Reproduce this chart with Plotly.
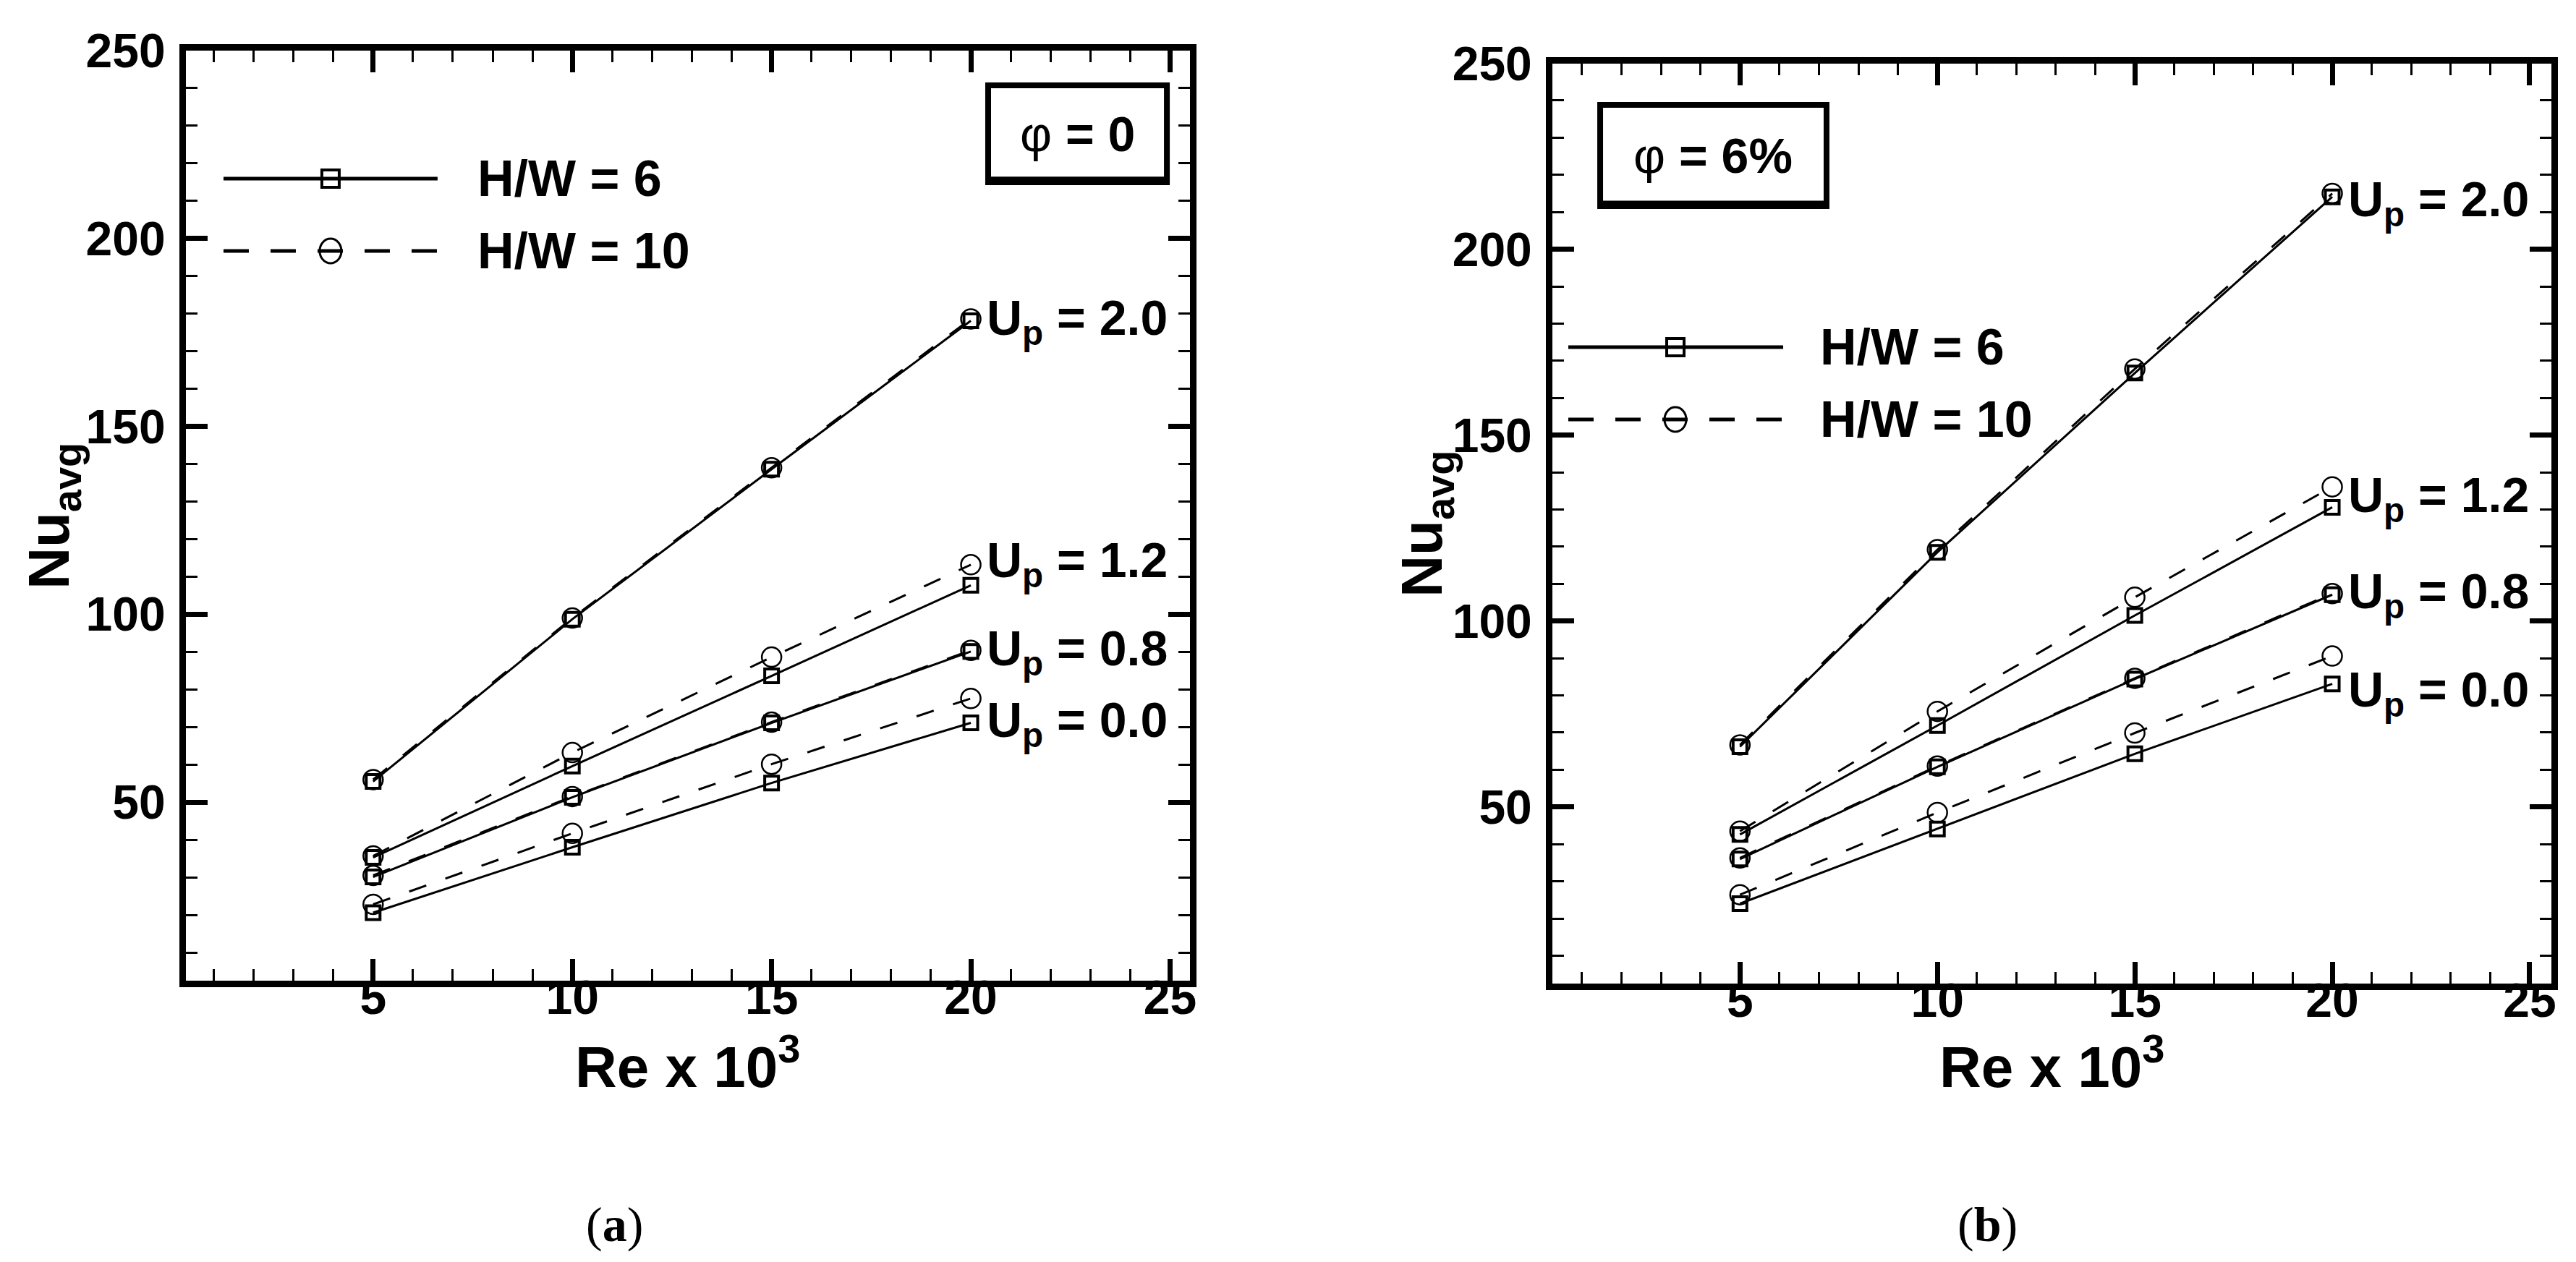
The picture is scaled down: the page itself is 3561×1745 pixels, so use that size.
import plotly.graph_objects as go

# Re x 10^3 values
re_x = [5, 10, 15, 20]
up_names = ["2.0", "1.2", "0.8", "0.0"]

# (a) phi = 0, H/W = 6
a_hw6_up20 = [55.5, 98.7, 138.6, 178.1]
a_hw6_up12 = [35.3, 59.6, 83.6, 107.7]
a_hw6_up08 = [30.1, 51.3, 71.1, 90.1]
a_hw6_up00 = [20.6, 38.0, 55.1, 71.1]
# (a) phi = 0, H/W = 10
a_hw10_up20 = [56.0, 99.0, 139.0, 178.6]
a_hw10_up12 = [35.7, 63.2, 88.6, 113.2]
a_hw10_up08 = [30.5, 51.5, 71.3, 90.4]
a_hw10_up00 = [22.8, 41.7, 60.1, 77.6]

# (b) phi = 6%, H/W = 6
b_hw6_up20 = [66.2, 118.5, 166.7, 214.1]
b_hw6_up12 = [42.6, 71.9, 101.5, 130.6]
b_hw6_up08 = [36.0, 60.8, 84.4, 107.1]
b_hw6_up00 = [24.0, 44.1, 64.3, 83.1]
# (b) phi = 6%, H/W = 10
b_hw10_up20 = [66.7, 119.2, 167.8, 215.0]
b_hw10_up12 = [43.5, 75.7, 106.4, 136.1]
b_hw10_up08 = [36.3, 61.0, 84.6, 107.4]
b_hw10_up00 = [26.4, 48.5, 69.9, 90.6]

x_ticks = [5, 10, 15, 20, 25]
y_ticks = [50, 100, 150, 200, 250]

SANS = "Liberation Sans, Arial, sans-serif"
SERIF = "Liberation Serif, Times New Roman, serif"

panels = [
    dict(xa="x", ya="y", hw6=[a_hw6_up20, a_hw6_up12, a_hw6_up08, a_hw6_up00],
         hw10=[a_hw10_up20, a_hw10_up12, a_hw10_up08, a_hw10_up00],
         xdom=[0.0699, 0.4597], ydom=[0.2275, 0.9645], xrange=[0.3, 25.5],
         phi="φ<b> = 0</b>", box=[0.799, 0.977, 0.8585, 0.9627],
         leg_x=[0.0375, 0.1441, 0.2507, 0.2889], leg_y=[0.8624, 0.7846],
         nu_x=0.0185, label="(<b>a</b>)", label_x=0.2362,
         up_shift=[0, 30, 0, 0]),
    dict(xa="x2", ya="y2", hw6=[b_hw6_up20, b_hw6_up12, b_hw6_up08, b_hw6_up00],
         hw10=[b_hw10_up20, b_hw10_up12, b_hw10_up08, b_hw10_up00],
         xdom=[0.6004, 0.9882], ydom=[0.2252, 0.9544], xrange=[0.25, 25.55],
         phi="φ<b> = 6%</b>", box=[0.0478, 0.2744, 0.8448, 0.9548],
         leg_x=[0.0159, 0.1231, 0.231, 0.2668], leg_y=[0.6916, 0.613],
         nu_x=0.5515, label="(<b>b</b>)", label_x=0.7692,
         up_shift=[-8, 12, 0, -12]),
]

fig = go.Figure()
shapes = []
annotations = []

for p in panels:
    xa, ya = p["xa"], p["ya"]
    for i, name in enumerate(up_names):
        fig.add_trace(go.Scatter(
            x=re_x, y=p["hw10"][i], xaxis=xa, yaxis=ya, mode="lines+markers",
            line=dict(color="black", width=3, dash="25px,28px"),
            marker=dict(symbol="circle-open", size=27, color="black",
                        line=dict(width=2.5, color="black")),
            showlegend=False, name="H/W = 10, Up = " + name))
        fig.add_trace(go.Scatter(
            x=re_x, y=p["hw6"][i], xaxis=xa, yaxis=ya, mode="lines+markers",
            line=dict(color="black", width=3),
            marker=dict(symbol="square-open", size=19, color="black",
                        line=dict(width=4, color="black")),
            showlegend=False, name="H/W = 6, Up = " + name))
        annotations.append(dict(
            x=re_x[-1], y=p["hw6"][i][-1], xref=xa, yref=ya,
            text="<b>U<sub>p</sub> = " + name + "</b>", showarrow=False,
            xanchor="left", yanchor="middle", xshift=20, yshift=p["up_shift"][i],
            font=dict(family=SANS, size=68, color="black")))

    xd, yd = xa + " domain", ya + " domain"
    # legend keys
    lx = p["leg_x"]
    for j, (dash, sym, txt) in enumerate([("solid", "rect", "H/W = 6"),
                                           ("35px,30px", "circle", "H/W = 10")]):
        yy = p["leg_y"][j]
        shapes.append(dict(type="line", xref=xd, yref=yd, x0=lx[0], x1=lx[2], y0=yy, y1=yy,
                           line=dict(color="black", width=5, dash=dash)))
        w, h = (12, 12) if sym == "rect" else (15, 17)
        shapes.append(dict(type=sym, xref=xd, yref=yd, xsizemode="pixel", ysizemode="pixel",
                           xanchor=lx[1], yanchor=yy, x0=-w, x1=w, y0=-h, y1=h,
                           line=dict(color="black", width=4 if sym == "rect" else 3)))
        annotations.append(dict(x=lx[3], y=yy, xref=xd, yref=yd, text="<b>" + txt + "</b>",
                                showarrow=False, xanchor="left", yanchor="middle",
                                font=dict(family=SANS, size=70, color="black")))

    # phi box
    bx = p["box"]
    shapes.append(dict(type="rect", xref=xd, yref=yd, x0=bx[0], x1=bx[1], y0=bx[2], y1=bx[3],
                       line=dict(color="black", width=8), fillcolor="white", layer="above"))
    shapes.append(dict(type="line", xref=xd, yref=yd, x0=bx[0], x1=bx[1], y0=bx[2] + 0.002,
                       y1=bx[2] + 0.002, line=dict(color="black", width=10)))
    annotations.append(dict(x=(bx[0] + bx[1]) / 2, y=(bx[2] + bx[3]) / 2, xref=xd, yref=yd,
                            text=p["phi"], showarrow=False, xanchor="center", yanchor="middle",
                            font=dict(family=SANS, size=68, color="black")))

    # axis titles
    annotations.append(dict(x=0.5, y=0.1625, xref=xd, yref="paper",
                            text="<b>Re x 10<sup>3</sup></b>", showarrow=False,
                            xanchor="center", yanchor="middle",
                            font=dict(family=SANS, size=80, color="black")))
    annotations.append(dict(x=p["nu_x"], y=0.5, xref="paper", yref=yd,
                            text="<b>Nu<sub>avg</sub></b>", showarrow=False, textangle=-90,
                            xanchor="center", yanchor="middle",
                            font=dict(family=SANS, size=80, color="black")))
    annotations.append(dict(x=p["label_x"], y=0.0344, xref="paper", yref="paper",
                            text=p["label"], showarrow=False, xanchor="center", yanchor="middle",
                            font=dict(family=SERIF, size=68, color="black")))

axis_common = dict(showline=True, linewidth=9, linecolor="black", mirror="ticks",
                   ticks="inside", ticklen=30, tickwidth=7, tickcolor="black",
                   showgrid=False, zeroline=False, automargin=False,
                   tickfont=dict(family=SANS, size=66, color="black", weight="bold"))

layout = dict(width=3561, height=1745, margin=dict(l=0, r=0, t=0, b=0),
              paper_bgcolor="white", plot_bgcolor="white",
              shapes=shapes, annotations=annotations)

for k, p in enumerate(panels):
    sx = "" if k == 0 else str(k + 1)
    layout["xaxis" + sx] = dict(axis_common, domain=p["xdom"], anchor=p["ya"], range=p["xrange"],
                                tickvals=x_ticks, ticklabelstandoff=-42,
                                minor=dict(ticks="inside", dtick=1, tick0=0, ticklen=16,
                                           tickwidth=3, tickcolor="black"))
    layout["yaxis" + sx] = dict(axis_common, domain=p["ydom"], anchor=p["xa"], range=[2.5, 250],
                                tickvals=y_ticks, ticklabelstandoff=6,
                                minor=dict(ticks="inside", dtick=10, tick0=0, ticklen=16,
                                           tickwidth=3, tickcolor="black"))

fig.update_layout(**layout)
fig.write_html("out.html")
